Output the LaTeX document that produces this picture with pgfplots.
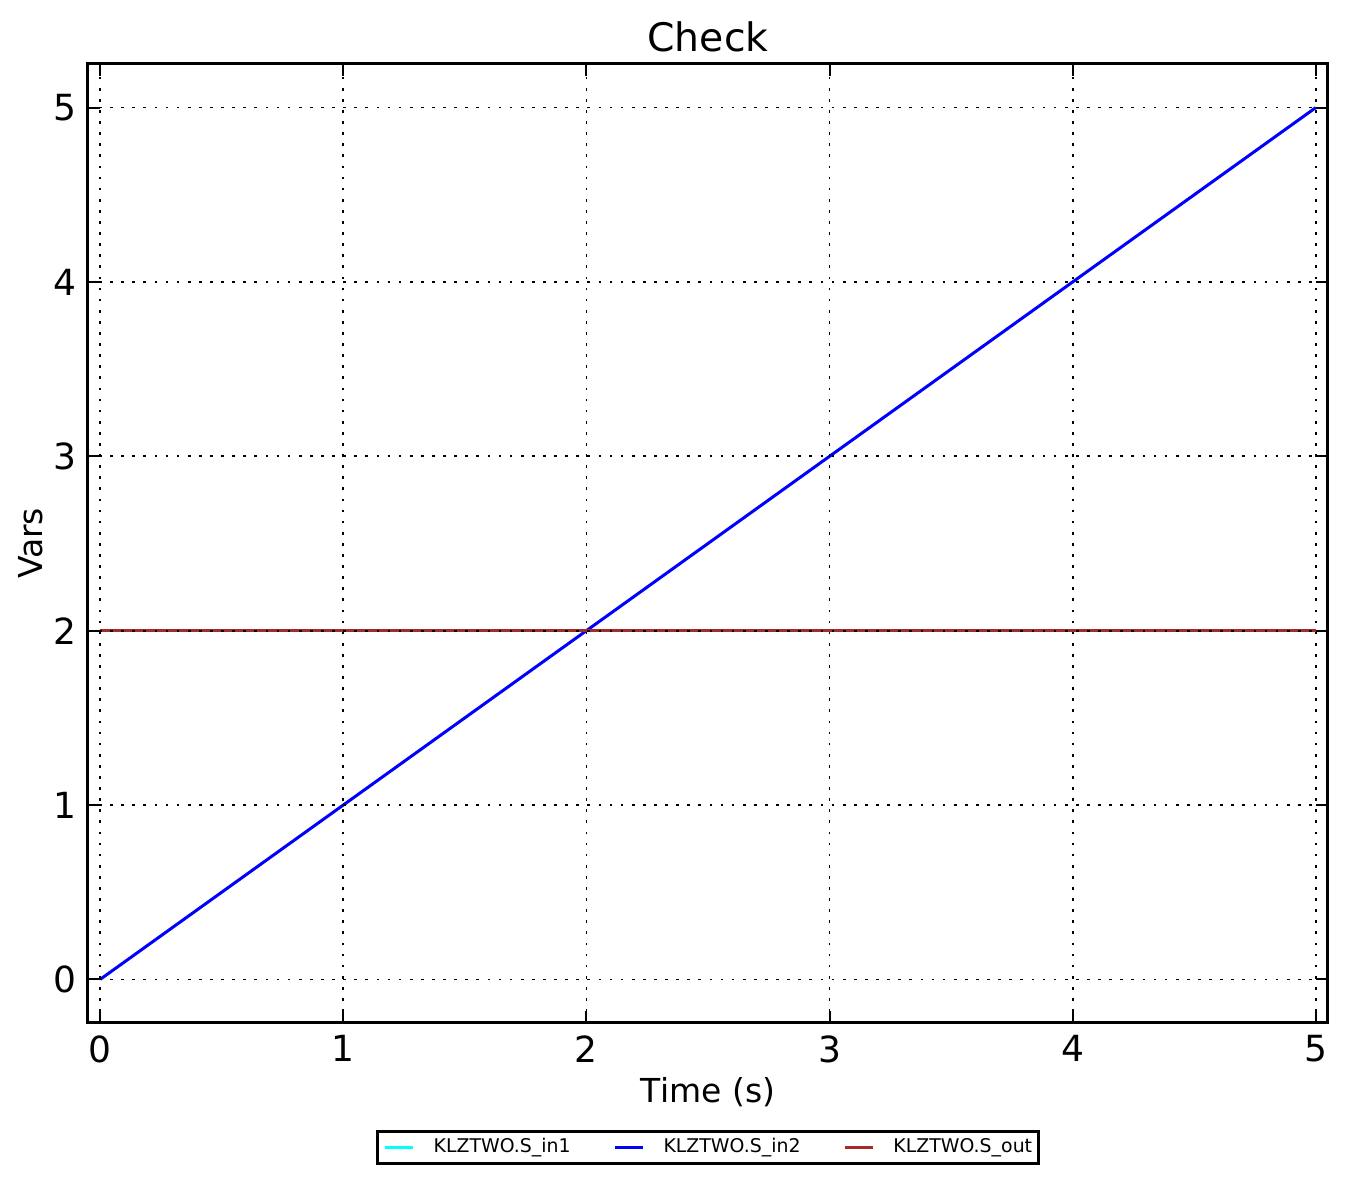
\documentclass[border=0pt]{standalone}
\usepackage{fontspec}
\setmainfont{DejaVu Sans}
\usepackage{pgfplots}
\pgfplotsset{compat=1.18}
\definecolor{lncyan}{HTML}{00FFFF}
\definecolor{lnblue}{HTML}{0000FF}
\definecolor{lnbrown}{HTML}{A52A2A}

\begin{document}
\begin{tikzpicture}
\path (0,0) rectangle (449pt,395pt);
\begin{axis}[
  at={(29.33pt,54pt)}, anchor=south west,
  scale only axis, width=413.33pt, height=319.67pt,
  xmin=-0.05, xmax=5.05, ymin=-0.25, ymax=5.25,
  xtick={0,1,2,3,4,5}, ytick={0,1,2,3,4,5},
  /pgf/number format/assume math mode=true,
  tick label style={font=\fontsize{12}{14}\selectfont},
  xticklabel style={anchor=north, inner sep=0pt, yshift=-4pt},
  yticklabel style={anchor=east, inner sep=0pt, xshift=-3.6pt},
  tick align=inside, tick pos=both,
  major tick length=4pt,
  axis line style={line width=1pt},
  every tick/.style={black, line width=0.7pt},
  grid=major,
  major grid style={black, line width=0.6pt, dash pattern=on 0.9pt off 2.8pt},
  axis on top,
  title={Check},
  title style={font=\fontsize{13.1}{15}\selectfont, at={(0.5,1)}, anchor=base, yshift=-2pt, inner sep=0pt},
  xlabel={Time (s)},
  xlabel style={font=\fontsize{11}{13}\selectfont, at={(0.5,0)}, anchor=base, yshift=-26.6pt, inner sep=0pt},
  ylabel={Vars},
  ylabel style={font=\fontsize{11}{13}\selectfont, at={(0,0.5)}, anchor=base, yshift=15pt, inner sep=0pt},
  legend columns=3,
  legend style={at={(0.5,0)}, anchor=north, yshift=-35.7pt,
    draw=black, line width=1pt, font=\fontsize{6.3}{7.5}\selectfont,
    inner xsep=2pt, inner ysep=2.2pt,
    nodes={inner sep=0pt},
    column sep=6.3pt,
    /tikz/every even column/.append style={column sep=14.4pt}},
  legend cell align=left,
  legend image code/.code={\draw[#1] (0pt,0pt) -- (9.3pt,0pt);},
]
\addplot[lncyan, line width=1pt] coordinates {(0,2) (5,2)};
\addplot[lnblue, line width=1pt] coordinates {(0,0) (5,5)};
\addplot[lnbrown, line width=1pt] coordinates {(0,2) (5,2)};
\legend{KLZTWO.S\_in1, KLZTWO.S\_in2, KLZTWO.S\_out}
\end{axis}
\end{tikzpicture}
\end{document}
